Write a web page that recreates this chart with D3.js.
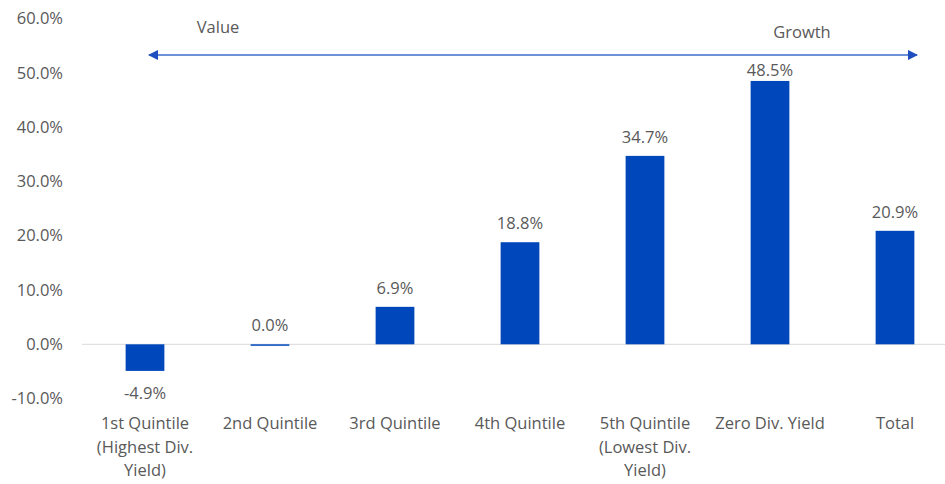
<!DOCTYPE html>
<html>
<head>
<meta charset="utf-8">
<script src="https://cdn.jsdelivr.net/npm/d3@7"></script>
<style>
  body { margin: 0; background: #fff; }
  text { font-family: "Open Sans", sans-serif; fill: #595959; }
</style>
</head>
<body>
<div id="chart"></div>
<script>
// data
const categories = [
  ["1st Quintile", "(Highest Div.", "Yield)"],
  ["2nd Quintile"],
  ["3rd Quintile"],
  ["4th Quintile"],
  ["5th Quintile", "(Lowest Div.", "Yield)"],
  ["Zero Div. Yield"],
  ["Total"]
];
const values = [-4.9, 0.0, 6.9, 18.8, 34.7, 48.5, 20.9];
const yTicks = [-10, 0, 10, 20, 30, 40, 50, 60];

const W = 945, H = 484;
const fontSize = "16.5px";

const svg = d3.select("#chart")
  .append("svg")
    .attr("width", W)
    .attr("height", H);

// scales
const xScale = d3.scaleBand()
  .domain(d3.range(values.length))
  .range([82.5, 957.5])
  .paddingInner(0.69)
  .paddingOuter(0.345);

const yScale = d3.scaleLinear()
  .domain([-10, 60])
  .range([398.6, 18.5]);

// y axis (labels only)
const yAxis = svg.append("g")
  .attr("transform", "translate(63,0)")
  .call(d3.axisLeft(yScale).tickValues(yTicks).tickSize(0).tickPadding(0)
    .tickFormat(d => d.toFixed(1) + "%"));
yAxis.select(".domain").remove();
yAxis.selectAll("text")
  .style("font-size", fontSize)
  .style("font-family", "'Open Sans', sans-serif")
  .attr("fill", "#595959");

// zero line
svg.append("line")
  .attr("x1", 82).attr("x2", W)
  .attr("y1", yScale(0)).attr("y2", yScale(0))
  .attr("stroke", "#d9d9d9")
  .attr("stroke-width", 1);

// bars
svg.selectAll("rect.bar")
  .data(values)
  .enter()
  .append("rect")
    .attr("class", "bar")
    .attr("x", (d, i) => xScale(i))
    .attr("width", xScale.bandwidth())
    .attr("y", d => yScale(Math.max(0, d)))
    .attr("height", d => Math.max(1.5, Math.abs(yScale(d) - yScale(0))))
    .attr("fill", "#0047BB");

// value labels (kept below the arrow)
svg.selectAll("text.val")
  .data(values)
  .enter()
  .append("text")
    .attr("class", "val")
    .attr("x", (d, i) => xScale(i) + xScale.bandwidth() / 2)
    .attr("y", d => d >= 0 ? Math.max(76, yScale(d) - 13) : yScale(d) + 28)
    .attr("text-anchor", "middle")
    .style("font-size", fontSize)
    .text(d => d.toFixed(1) + "%");

// category labels
const cat = svg.selectAll("text.cat")
  .data(categories)
  .enter()
  .append("text")
    .attr("class", "cat")
    .attr("text-anchor", "middle")
    .style("font-size", fontSize)
    .attr("transform", (d, i) => `translate(${xScale(i) + xScale.bandwidth() / 2}, 429)`);
cat.selectAll("tspan")
  .data(d => d)
  .enter()
  .append("tspan")
    .attr("x", 0)
    .attr("y", (d, j) => j * 23.5)
    .text(d => d);

// value / growth arrow
const defs = svg.append("defs");
defs.append("marker")
  .attr("id", "head")
  .attr("viewBox", "0 0 10 10")
  .attr("refX", 9).attr("refY", 5)
  .attr("markerWidth", 7).attr("markerHeight", 7)
  .attr("markerUnits", "strokeWidth")
  .attr("orient", "auto-start-reverse")
  .append("path")
    .attr("d", "M0,0 L10,5 L0,10 z")
    .attr("fill", "#1F4FBF");

svg.append("line")
  .attr("x1", 149).attr("x2", 917)
  .attr("y1", 55).attr("y2", 55)
  .attr("stroke", "#3B6CC8")
  .attr("stroke-width", 1.5)
  .attr("marker-start", "url(#head)")
  .attr("marker-end", "url(#head)");

svg.append("text")
  .attr("x", 218).attr("y", 33)
  .attr("text-anchor", "middle")
  .style("font-size", fontSize)
  .text("Value");

svg.append("text")
  .attr("x", 802).attr("y", 38)
  .attr("text-anchor", "middle")
  .style("font-size", fontSize)
  .text("Growth");
</script>
</body>
</html>
